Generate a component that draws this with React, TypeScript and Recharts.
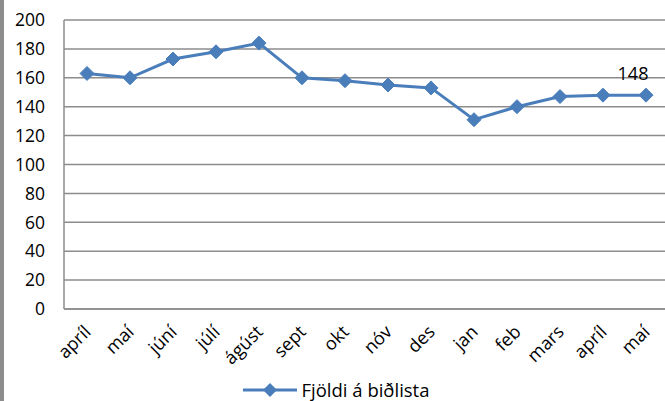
import React from 'react';
import { LineChart, Line, XAxis, YAxis, CartesianGrid, Legend, LabelList } from 'recharts';

const months = ['apríl', 'maí', 'júní', 'júlí', 'ágúst', 'sept', 'okt', 'nóv', 'des', 'jan', 'feb', 'mars', 'apríl', 'maí'];
const waitingList = [163, 160, 173, 178, 184, 160, 158, 155, 153, 131, 140, 147, 148, 148];
const yTicks = [0, 20, 40, 60, 80, 100, 120, 140, 160, 180, 200];

const data = months.map((m, i) => ({ key: i, month: m, value: waitingList[i] }));

const BLUE = '#4a7ebb';
const FONT = '"Open Sans", sans-serif';

const Diamond = (props: any) => {
  const { cx, cy } = props;
  if (cx == null || cy == null) return null;
  const r = 7;
  return <path d={`M${cx},${cy - r}L${cx + r},${cy}L${cx},${cy + r}L${cx - r},${cy}Z`} fill={BLUE} stroke={BLUE} strokeWidth={1} />;
};

const MonthTick = (props: any) => {
  const { x, y, payload } = props;
  const tx = x + 5;
  const ty = y + 16;
  return (
    <text x={tx} y={ty} transform={`rotate(-45, ${tx}, ${ty})`} textAnchor="end" fontSize={18} fontFamily={FONT} fill="#000">
      {months[payload.value]}
    </text>
  );
};

const LastLabel = (props: any) => {
  const { x, y, value, index } = props;
  if (index !== waitingList.length - 1) return null;
  return (
    <text x={x - 13} y={y - 15} textAnchor="middle" fontSize={18} fontFamily={FONT} fill="#000">
      {value}
    </text>
  );
};

const LegendContent = () => (
  <div style={{ display: 'flex', justifyContent: 'center', alignItems: 'center', fontFamily: FONT, fontSize: 18.5, color: '#000', paddingLeft: 4, paddingTop: 2 }}>
    <svg width={54} height={16} style={{ marginRight: 4 }}>
      <line x1={0} y1={8} x2={54} y2={8} stroke={BLUE} strokeWidth={3} />
      <path d="M27,1L34,8L27,15L20,8Z" fill={BLUE} />
    </svg>
    <span>Fjöldi á biðlista</span>
  </div>
);

export default function App() {
  return (
    <div style={{ position: 'absolute', left: 0, top: 0, width: 665, height: 401, background: '#fff', borderLeft: '4px solid #8c8c8c', boxSizing: 'border-box', overflow: 'hidden' }}>
      <div style={{ position: 'absolute', left: -4, top: 0 }}>
        <LineChart width={669} height={401} data={data} margin={{ top: 20, right: 0, left: 0, bottom: 2 }}>
          <CartesianGrid horizontal vertical={false} stroke="#8c8c8c" strokeWidth={1.5} />
          <XAxis dataKey="key" type="category" padding={{ left: 23, right: 23 }} tick={<MonthTick />} tickLine={false} interval={0} height={66} axisLine={{ stroke: '#8c8c8c', strokeWidth: 1.5 }} />
          <YAxis domain={[0, 200]} ticks={yTicks} width={64} tickLine={false} tickMargin={13} axisLine={{ stroke: '#8c8c8c', strokeWidth: 1.5 }} tick={{ fontSize: 17.5, fontFamily: FONT, fill: '#000' }} />
          <Legend verticalAlign="bottom" height={24} content={<LegendContent />} />
          <Line type="linear" dataKey="value" stroke={BLUE} strokeWidth={3} dot={<Diamond />} activeDot={false} isAnimationActive={false}>
            <LabelList dataKey="value" content={<LastLabel />} />
          </Line>
        </LineChart>
      </div>
    </div>
  );
}
